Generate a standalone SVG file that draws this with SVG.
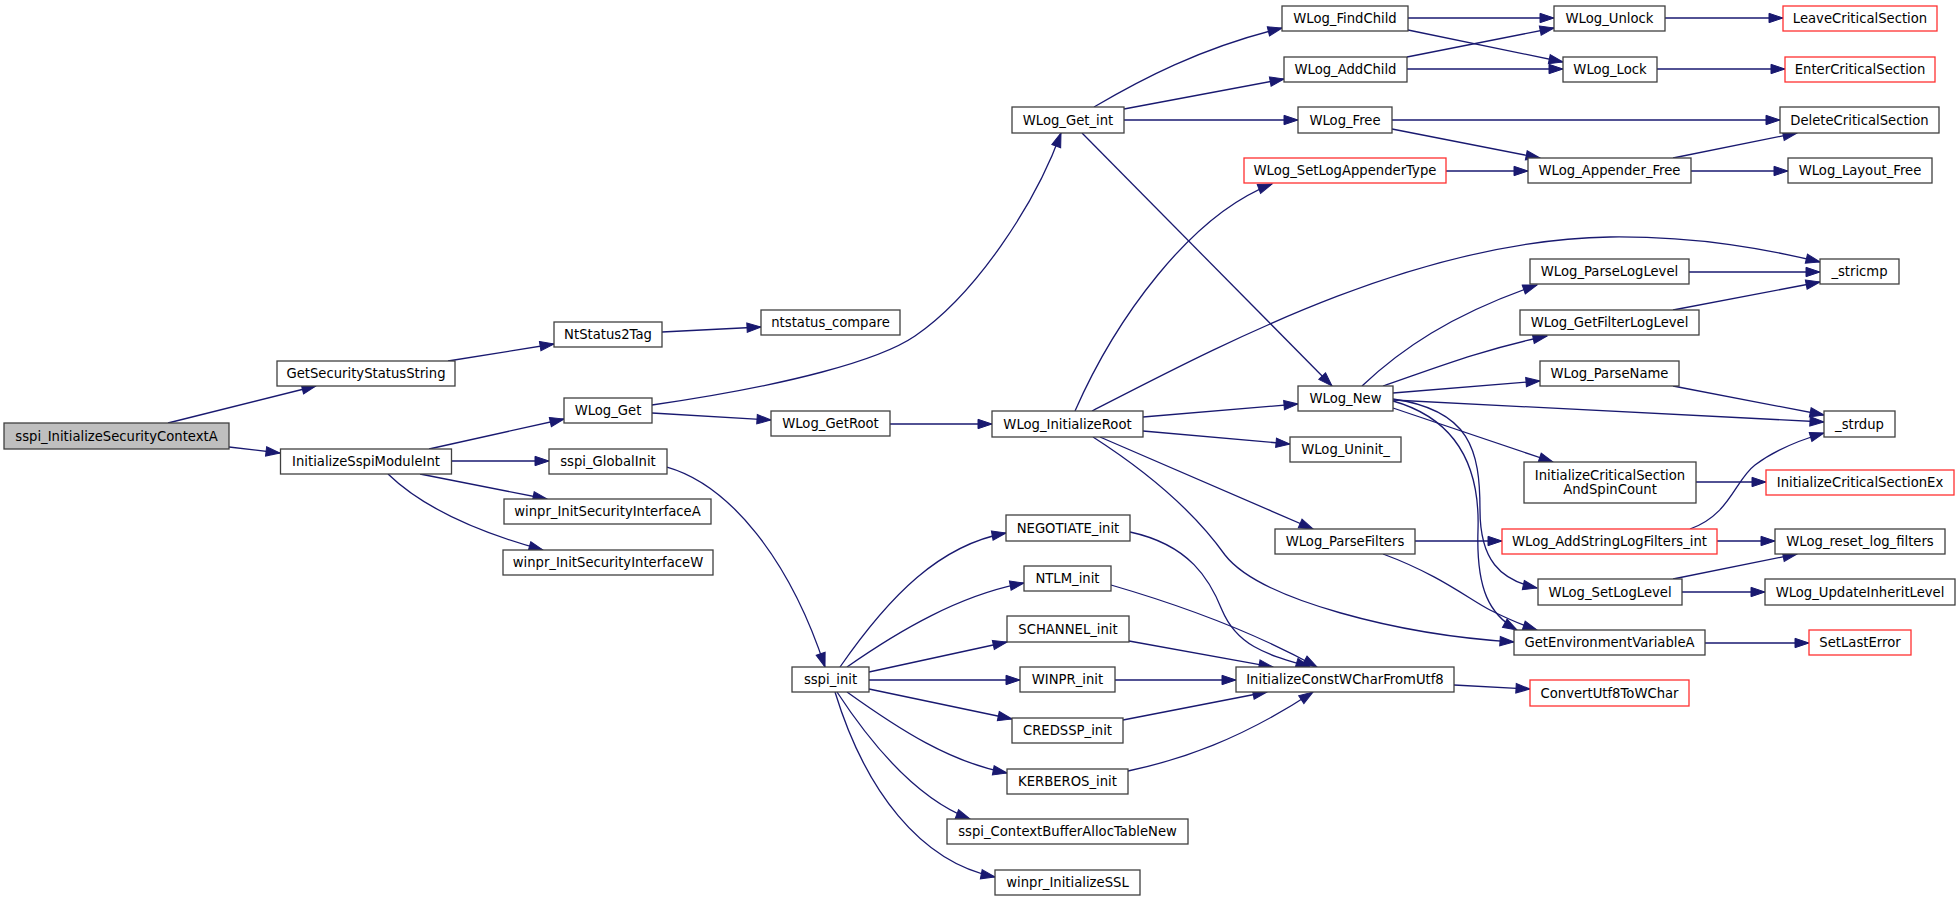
<svg xmlns="http://www.w3.org/2000/svg" width="1960" height="901" viewBox="0 0 1960 901">
<style>
.n rect{fill:#ffffff;stroke:#404040;stroke-width:1.3}
.r rect{fill:#ffffff;stroke:#ff3030;stroke-width:1.3}
.root rect{fill:#bfbfbf;stroke:#404040;stroke-width:1.3}
text{font-family:"DejaVu Sans","Liberation Sans",sans-serif;font-size:13.2px;fill:#000000;text-anchor:middle}
#edges path{fill:none;stroke:#191970;stroke-width:1.3;marker-end:url(#ah)}
</style>
<defs>
<marker id="ah" markerUnits="userSpaceOnUse" markerWidth="14" markerHeight="10" refX="14" refY="5" orient="auto" overflow="visible">
<path d="M0,0.3 L14,5 L0,9.7 z" fill="#191970" stroke="#191970" stroke-width="1"/>
</marker>
</defs>
<rect width="1960" height="901" fill="#ffffff"/>
<g id="edges">
<path d="M168,423 L316,386"/>
<path d="M229,447 L280,453"/>
<path d="M448,361 L554,344"/>
<path d="M429,449 L564,419"/>
<path d="M452,461 L549,461"/>
<path d="M420,474 L547,499"/>
<path d="M388,474 C420,505 470,530 543,550"/>
<path d="M662,332 L761,327"/>
<path d="M652,405 C790,385 880,360 915,336 C975,295 1035,205 1061,133"/>
<path d="M652,413 L771,420"/>
<path d="M890,424 L992,424"/>
<path d="M667,467 C730,485 790,560 825,667"/>
<path d="M840,667 C890,595 940,545 1006,533"/>
<path d="M847,667 C900,630 960,595 1024,583"/>
<path d="M869,672 L1007,642"/>
<path d="M869,680 L1020,680"/>
<path d="M869,689 L1012,719"/>
<path d="M847,692 C900,730 950,762 1007,773"/>
<path d="M837,692 C875,750 920,800 970,819"/>
<path d="M835,692 C865,790 920,862 995,877"/>
<path d="M1130,532 C1190,545 1210,580 1222,610 C1238,648 1270,655 1310,667"/>
<path d="M1111,585 C1180,605 1250,630 1317,667"/>
<path d="M1129,641 L1273,667"/>
<path d="M1115,680 L1236,680"/>
<path d="M1123,720 L1267,692"/>
<path d="M1128,771 C1180,760 1240,740 1313,692"/>
<path d="M1454,685 L1530,689"/>
<path d="M1094,107 C1140,80 1200,48 1282,28"/>
<path d="M1124,109 L1284,79"/>
<path d="M1124,120 L1298,120"/>
<path d="M1082,133 L1332,386"/>
<path d="M1408,18 L1554,18"/>
<path d="M1408,30 L1563,62"/>
<path d="M1407,57 L1554,28"/>
<path d="M1407,69 L1563,69"/>
<path d="M1665,18 L1783,18"/>
<path d="M1657,69 L1785,69"/>
<path d="M1392,120 L1780,120"/>
<path d="M1392,129 L1540,158"/>
<path d="M1446,171 L1528,171"/>
<path d="M1673,158 L1797,133"/>
<path d="M1691,171 L1788,171"/>
<path d="M1075,411 C1115,320 1190,215 1272,184"/>
<path d="M1092,411 C1230,340 1420,240 1610,237 C1700,236 1770,250 1820,262"/>
<path d="M1143,417 L1298,404"/>
<path d="M1143,431 L1290,444"/>
<path d="M1100,437 L1313,529"/>
<path d="M1093,437 C1160,480 1200,520 1225,555 C1260,600 1400,635 1514,642"/>
<path d="M1362,386 C1400,350 1450,315 1537,285"/>
<path d="M1383,386 C1430,370 1480,350 1547,336"/>
<path d="M1393,393 L1540,381"/>
<path d="M1393,400 L1824,422"/>
<path d="M1673,386 L1824,415"/>
<path d="M1393,408 L1553,462"/>
<path d="M1393,399 C1470,410 1480,450 1480,510 C1480,560 1500,580 1537,588"/>
<path d="M1393,401 C1460,420 1480,470 1478,530 C1476,590 1490,615 1517,630"/>
<path d="M1415,541 L1502,541"/>
<path d="M1383,554 C1440,575 1470,600 1490,610 C1510,620 1525,626 1537,630"/>
<path d="M1696,482 L1766,482"/>
<path d="M1690,529 C1730,515 1735,480 1755,465 C1775,450 1800,440 1824,433"/>
<path d="M1717,541 L1775,541"/>
<path d="M1673,579 L1797,554"/>
<path d="M1682,592 L1765,592"/>
<path d="M1705,643 L1809,643"/>
<path d="M1689,272 L1820,272"/>
<path d="M1673,310 L1820,282"/>
</g>
<g id="n_sspi_InitializeSecurityContextA" class="root"><rect x="4" y="423" width="225" height="26"/><text x="116.5" y="440.5">sspi_InitializeSecurityContextA</text></g>
<g id="n_GetSecurityStatusString" class="n"><rect x="277" y="361" width="178" height="25"/><text x="366" y="378">GetSecurityStatusString</text></g>
<g id="n_InitializeSspiModuleInt" class="n"><rect x="280.5" y="449" width="171" height="25"/><text x="366" y="466">InitializeSspiModuleInt</text></g>
<g id="n_NtStatus2Tag" class="n"><rect x="554" y="322" width="108" height="25"/><text x="608" y="339">NtStatus2Tag</text></g>
<g id="n_ntstatus_compare" class="n"><rect x="761" y="310" width="139" height="25"/><text x="830.5" y="327">ntstatus_compare</text></g>
<g id="n_WLog_Get" class="n"><rect x="564" y="398" width="88" height="25"/><text x="608" y="415">WLog_Get</text></g>
<g id="n_WLog_GetRoot" class="n"><rect x="771" y="411" width="119" height="25"/><text x="830.5" y="428">WLog_GetRoot</text></g>
<g id="n_sspi_GlobalInit" class="n"><rect x="549" y="449" width="118" height="25"/><text x="608" y="466">sspi_GlobalInit</text></g>
<g id="n_winpr_InitSecurityInterfaceA" class="n"><rect x="504" y="499" width="207" height="25"/><text x="607.5" y="516">winpr_InitSecurityInterfaceA</text></g>
<g id="n_winpr_InitSecurityInterfaceW" class="n"><rect x="503" y="550" width="210" height="25"/><text x="608" y="567">winpr_InitSecurityInterfaceW</text></g>
<g id="n_WLog_Get_int" class="n"><rect x="1012" y="107" width="112" height="26"/><text x="1068" y="124.5">WLog_Get_int</text></g>
<g id="n_WLog_FindChild" class="n"><rect x="1282" y="6" width="126" height="25"/><text x="1345" y="23">WLog_FindChild</text></g>
<g id="n_WLog_AddChild" class="n"><rect x="1284" y="57" width="123" height="25"/><text x="1345.5" y="74">WLog_AddChild</text></g>
<g id="n_WLog_Free" class="n"><rect x="1298" y="107" width="94" height="26"/><text x="1345" y="124.5">WLog_Free</text></g>
<g id="n_WLog_SetLogAppenderType" class="r"><rect x="1244" y="158" width="202" height="25"/><text x="1345" y="175">WLog_SetLogAppenderType</text></g>
<g id="n_WLog_Unlock" class="n"><rect x="1554" y="6" width="111" height="25"/><text x="1609.5" y="23">WLog_Unlock</text></g>
<g id="n_WLog_Lock" class="n"><rect x="1563" y="57" width="94" height="25"/><text x="1610" y="74">WLog_Lock</text></g>
<g id="n_LeaveCriticalSection" class="r"><rect x="1783" y="6" width="154" height="25"/><text x="1860" y="23">LeaveCriticalSection</text></g>
<g id="n_EnterCriticalSection" class="r"><rect x="1785" y="57" width="150" height="25"/><text x="1860" y="74">EnterCriticalSection</text></g>
<g id="n_DeleteCriticalSection" class="n"><rect x="1780" y="107" width="159" height="26"/><text x="1859.5" y="124.5">DeleteCriticalSection</text></g>
<g id="n_WLog_Appender_Free" class="n"><rect x="1528" y="158" width="163" height="25"/><text x="1609.5" y="175">WLog_Appender_Free</text></g>
<g id="n_WLog_Layout_Free" class="n"><rect x="1788" y="158" width="144" height="25"/><text x="1860" y="175">WLog_Layout_Free</text></g>
<g id="n__stricmp" class="n"><rect x="1820" y="259" width="79" height="25"/><text x="1859.5" y="276">_stricmp</text></g>
<g id="n_WLog_ParseLogLevel" class="n"><rect x="1530" y="259" width="159" height="25"/><text x="1609.5" y="276">WLog_ParseLogLevel</text></g>
<g id="n_WLog_GetFilterLogLevel" class="n"><rect x="1520" y="310" width="179" height="25"/><text x="1609.5" y="327">WLog_GetFilterLogLevel</text></g>
<g id="n_WLog_ParseName" class="n"><rect x="1540" y="361" width="139" height="25"/><text x="1609.5" y="378">WLog_ParseName</text></g>
<g id="n_WLog_InitializeRoot" class="n"><rect x="992" y="411" width="151" height="26"/><text x="1067.5" y="428.5">WLog_InitializeRoot</text></g>
<g id="n_WLog_New" class="n"><rect x="1298" y="386" width="95" height="25"/><text x="1345.5" y="403">WLog_New</text></g>
<g id="n_WLog_Uninit_" class="n"><rect x="1290" y="437" width="111" height="25"/><text x="1345.5" y="454">WLog_Uninit_</text></g>
<g id="n_WLog_ParseFilters" class="n"><rect x="1275" y="529" width="140" height="25"/><text x="1345" y="546">WLog_ParseFilters</text></g>
<g id="n__strdup" class="n"><rect x="1824" y="411" width="71" height="26"/><text x="1859.5" y="428.5">_strdup</text></g>
<g id="n_InitializeCriticalSectionAndSpinCount" class="n"><rect x="1524" y="462" width="172" height="41"/><text x="1610" y="479.5">InitializeCriticalSection</text><text x="1610" y="493.5">AndSpinCount</text></g>
<g id="n_InitializeCriticalSectionEx" class="r"><rect x="1766" y="470" width="188" height="25"/><text x="1860" y="487">InitializeCriticalSectionEx</text></g>
<g id="n_WLog_AddStringLogFilters_int" class="r"><rect x="1502" y="529" width="215" height="25"/><text x="1609.5" y="546">WLog_AddStringLogFilters_int</text></g>
<g id="n_WLog_reset_log_filters" class="n"><rect x="1775" y="529" width="170" height="25"/><text x="1860" y="546">WLog_reset_log_filters</text></g>
<g id="n_WLog_SetLogLevel" class="n"><rect x="1538" y="579" width="144" height="26"/><text x="1610" y="596.5">WLog_SetLogLevel</text></g>
<g id="n_WLog_UpdateInheritLevel" class="n"><rect x="1765" y="579" width="190" height="26"/><text x="1860" y="596.5">WLog_UpdateInheritLevel</text></g>
<g id="n_GetEnvironmentVariableA" class="n"><rect x="1514" y="630" width="191" height="25"/><text x="1609.5" y="647">GetEnvironmentVariableA</text></g>
<g id="n_SetLastError" class="r"><rect x="1809" y="630" width="102" height="25"/><text x="1860" y="647">SetLastError</text></g>
<g id="n_sspi_init" class="n"><rect x="792" y="667" width="77" height="25"/><text x="830.5" y="684">sspi_init</text></g>
<g id="n_NEGOTIATE_init" class="n"><rect x="1006" y="515" width="124" height="26"/><text x="1068" y="532.5">NEGOTIATE_init</text></g>
<g id="n_NTLM_init" class="n"><rect x="1024" y="566" width="87" height="25"/><text x="1067.5" y="583">NTLM_init</text></g>
<g id="n_SCHANNEL_init" class="n"><rect x="1007" y="616" width="122" height="26"/><text x="1068" y="633.5">SCHANNEL_init</text></g>
<g id="n_WINPR_init" class="n"><rect x="1020" y="667" width="95" height="25"/><text x="1067.5" y="684">WINPR_init</text></g>
<g id="n_CREDSSP_init" class="n"><rect x="1012" y="718" width="111" height="25"/><text x="1067.5" y="735">CREDSSP_init</text></g>
<g id="n_KERBEROS_init" class="n"><rect x="1007" y="769" width="121" height="25"/><text x="1067.5" y="786">KERBEROS_init</text></g>
<g id="n_sspi_ContextBufferAllocTableNew" class="n"><rect x="947" y="819" width="241" height="25"/><text x="1067.5" y="836">sspi_ContextBufferAllocTableNew</text></g>
<g id="n_winpr_InitializeSSL" class="n"><rect x="995" y="870" width="145" height="25"/><text x="1067.5" y="887">winpr_InitializeSSL</text></g>
<g id="n_InitializeConstWCharFromUtf8" class="n"><rect x="1236" y="667" width="218" height="25"/><text x="1345" y="684">InitializeConstWCharFromUtf8</text></g>
<g id="n_ConvertUtf8ToWChar" class="r"><rect x="1530" y="680" width="159" height="26"/><text x="1609.5" y="697.5">ConvertUtf8ToWChar</text></g>
</svg>
